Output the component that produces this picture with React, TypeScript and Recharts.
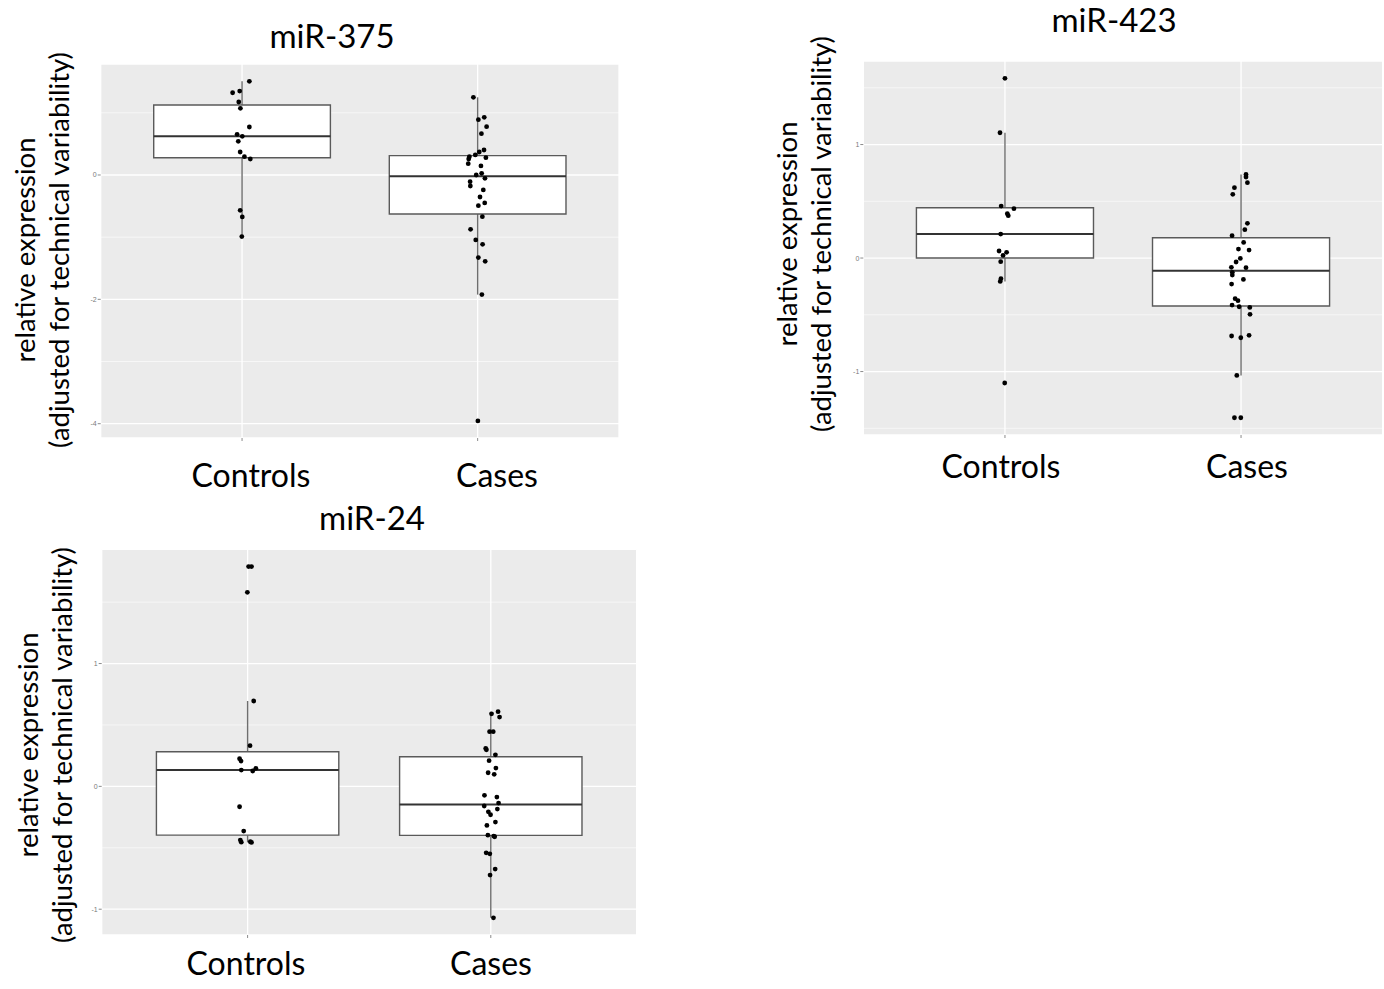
import React from 'react';
import { ComposedChart, Scatter, XAxis, YAxis, CartesianGrid, ReferenceArea, ReferenceLine } from 'recharts';

const FONT = 'Lato, "Open Sans", sans-serif';

const categories = ['Controls', 'Cases'];

// box stats per group: [lower whisker, Q1, median, Q3, upper whisker]
type BoxStats = [number, number, number, number, number];

// miR-375
const mir375Ticks = [-4, -2, 0];
const mir375Minor = [-3, -1, 1];
const mir375Boxes: BoxStats[] = [
    [-0.99, 0.278, 0.622, 1.125, 1.506],
    [-1.924, -0.627, -0.021, 0.311, 1.249],
];
const mir375Controls = [1.506, 1.323, 1.35, 1.174, 1.072, 0.772, 0.654, 0.622, 0.541, 0.37, 0.295, 0.257, -0.568, -0.675, -0.99];
const mir375ControlsJitter = [0.031, -0.04, -0.01, -0.014, -0.007, 0.031, -0.021, 0.001, -0.016, -0.008, 0.01, 0.035, -0.008, 0.001, -0.001];
const mir375Cases = [1.249, 0.889, 0.927, 0.777, 0.665, 0.402, 0.37, 0.322, 0.295, 0.257, 0.279, 0.182, 0.145, 0.027, 0, -0.054, -0.107, -0.177, -0.241, -0.354, -0.45, -0.493, -0.67, -0.874, -1.045, -1.115, -1.329, -1.388, -1.924, -3.955];
const mir375CasesJitter = [-0.018, 0.003, 0.028, 0.038, 0.016, 0.027, 0.007, -0.01, -0.035, -0.038, 0.035, -0.04, 0.014, 0.017, -0.006, 0.031, -0.032, -0.031, 0.024, 0.01, 0.03, 0.003, 0.02, -0.03, -0.008, 0.021, 0.003, 0.032, 0.018, 0.001];

// miR-423
const mir423Ticks = [-1, 0, 1];
const mir423Minor = [-1.5, -0.5, 0.5, 1.5];
const mir423Boxes: BoxStats[] = [
    [-0.206, 0, 0.211, 0.443, 1.104],
    [-1.034, -0.423, -0.112, 0.179, 0.737],
];
const mir423Controls = [1.583, 1.104, 0.458, 0.435, 0.391, 0.373, 0.211, 0.062, 0.05, 0.023, -0.032, -0.182, -0.206, -1.101];
const mir423ControlsJitter = [0, -0.021, -0.016, 0.038, 0.01, 0.014, -0.018, -0.025, 0.007, -0.008, -0.018, -0.017, -0.02, -0.001];
const mir423Cases = [0.737, 0.714, 0.664, 0.62, 0.561, 0.306, 0.25, 0.197, 0.138, 0.079, 0.07, -0.003, -0.035, -0.082, -0.085, -0.126, -0.15, -0.188, -0.229, -0.358, -0.376, -0.414, -0.429, -0.435, -0.496, -0.687, -0.702, -0.681, -1.034, -1.407, -1.407];
const mir423CasesJitter = [0.021, 0.021, 0.027, -0.028, -0.035, 0.027, 0.016, -0.038, 0.011, -0.011, 0.034, -0.003, -0.021, -0.041, 0.021, -0.037, -0.037, 0.01, -0.04, -0.025, -0.013, -0.038, -0.008, 0.037, 0.038, -0.04, -0.001, 0.034, -0.018, -0.028, -0.001];

// miR-24
const mir24Ticks = [-1, 0, 1];
const mir24Minor = [-0.5, 0.5, 1.5];
const mir24Boxes: BoxStats[] = [
    [-0.456, -0.397, 0.133, 0.282, 0.695],
    [-1.07, -0.399, -0.147, 0.241, 0.608],
];
const mir24Controls = [1.789, 1.789, 1.58, 0.695, 0.331, 0.225, 0.206, 0.133, 0.125, 0.147, -0.166, -0.364, -0.437, -0.454, -0.451, -0.456];
const mir24ControlsJitter = [0.004, 0.016, -0.001, 0.025, 0.01, -0.033, -0.027, -0.026, 0.021, 0.034, -0.033, -0.016, -0.03, -0.026, 0.011, 0.016];
const mir24Cases = [0.591, 0.608, 0.564, 0.445, 0.445, 0.309, 0.298, 0.257, 0.209, 0.149, 0.111, 0.098, -0.073, -0.087, -0.16, -0.136, -0.185, -0.207, -0.231, -0.291, -0.318, -0.397, -0.405, -0.41, -0.541, -0.549, -0.673, -0.722, -1.07];
const mir24CasesJitter = [0.003, 0.03, 0.036, -0.005, 0.01, -0.021, -0.018, 0.019, -0.007, 0.021, -0.011, 0.014, -0.026, 0.025, -0.027, 0.032, 0.027, -0.01, -0.001, 0.019, -0.016, -0.012, 0.012, 0.016, -0.019, -0.004, 0.018, -0.003, 0.011];

const yLabel1 = 'relative expression';
const yLabel2 = '(adjusted for technical variability)';

const toPoints = (groups: number[][], jitters: number[][]) =>
    groups.flatMap((vals, i) => vals.map((v, j) => ({ x: i + 1 + jitters[i][j], y: v })));

const Dot = (props: any) => <circle cx={props.cx} cy={props.cy} r={2.4} fill="#000" />;

interface PanelProps {
    left: number;
    top: number;
    width: number;
    height: number;
    margin: { top: number; right: number; bottom: number; left: number };
    domain: [number, number];
    ticks: number[];
    minor: number[];
    boxes: BoxStats[];
    points: { x: number; y: number }[];
}

function Panel({ left, top, width, height, margin, domain, ticks, minor, boxes, points }: PanelProps) {
    const half = 0.375;
    return (
        <div style={{ position: 'absolute', left, top }}>
            <ComposedChart width={width} height={height} margin={margin}>
                <CartesianGrid fill="#EBEBEB" stroke="#FFFFFF" strokeWidth={1.3} />
                <XAxis
                    type="number"
                    dataKey="x"
                    domain={[0.4, 2.6]}
                    ticks={[1, 2]}
                    allowDataOverflow
                    axisLine={false}
                    tickLine={{ stroke: '#8c8c8c' }}
                    tickSize={3}
                    tick={() => <g />}
                    height={10}
                />
                <YAxis
                    type="number"
                    dataKey="y"
                    domain={domain}
                    ticks={ticks}
                    allowDataOverflow
                    axisLine={false}
                    tickLine={{ stroke: '#8c8c8c' }}
                    tickSize={3}
                    tickMargin={1}
                    width={30}
                    tick={{ fontSize: 7, fill: '#7a7a7a', fontFamily: 'Arial, sans-serif' }}
                />
                {minor.map((v) => (
                    <ReferenceLine key={'m' + v} y={v} stroke="#FFFFFF" strokeWidth={0.6} zIndex={-50} />
                ))}
                {boxes.map((b, i) => (
                    <ReferenceLine
                        key={'wl' + i}
                        segment={[{ x: i + 1, y: b[0] }, { x: i + 1, y: b[1] }]}
                        stroke="#6e6e6e"
                        strokeWidth={1.4}
                        zIndex={50}
                    />
                ))}
                {boxes.map((b, i) => (
                    <ReferenceLine
                        key={'wu' + i}
                        segment={[{ x: i + 1, y: b[3] }, { x: i + 1, y: b[4] }]}
                        stroke="#6e6e6e"
                        strokeWidth={1.4}
                        zIndex={50}
                    />
                ))}
                {boxes.map((b, i) => (
                    <ReferenceArea
                        key={'b' + i}
                        x1={i + 1 - half}
                        x2={i + 1 + half}
                        y1={b[1]}
                        y2={b[3]}
                        fill="#FFFFFF"
                        fillOpacity={1}
                        stroke="#5a5a5a"
                        strokeWidth={1.4}
                        zIndex={100}
                    />
                ))}
                {boxes.map((b, i) => (
                    <ReferenceLine
                        key={'md' + i}
                        segment={[{ x: i + 1 - half, y: b[2] }, { x: i + 1 + half, y: b[2] }]}
                        stroke="#333333"
                        strokeWidth={2}
                        zIndex={150}
                    />
                ))}
                <Scatter data={points} isAnimationActive={false} shape={Dot} />
            </ComposedChart>
        </div>
    );
}

interface TextsProps {
    title: string;
    titleX: number;
    titleY: number;
    labelX1: number;
    labelX2: number;
    labelCy: number;
    catX: number[];
    catY: number;
}

function Texts({ title, titleX, titleY, labelX1, labelX2, labelCy, catX, catY }: TextsProps) {
    return (
        <g fontFamily={FONT} fill="#000">
            <text x={titleX} y={titleY} fontSize={33} textAnchor="middle">{title}</text>
            <text x={labelX1} y={labelCy} fontSize={27.5} textAnchor="middle" transform={`rotate(-90, ${labelX1}, ${labelCy})`}>
                {yLabel1}
            </text>
            <text x={labelX2} y={labelCy} fontSize={27.5} textAnchor="middle" transform={`rotate(-90, ${labelX2}, ${labelCy})`}>
                {yLabel2}
            </text>
            {categories.map((c, i) => (
                <text key={c} x={catX[i]} y={catY} fontSize={32} textAnchor="middle">{c}</text>
            ))}
        </g>
    );
}

export default function App() {
    return (
        <div style={{ position: 'absolute', left: 0, top: 0, width: 1384, height: 989, background: '#fff', overflow: 'hidden' }}>
            <Panel
                left={0}
                top={0}
                width={640}
                height={460}
                margin={{ top: 64, right: 21, bottom: 12, left: 70.7 }}
                domain={[-4.23, 1.785]}
                ticks={mir375Ticks}
                minor={mir375Minor}
                boxes={mir375Boxes}
                points={toPoints([mir375Controls, mir375Cases], [mir375ControlsJitter, mir375CasesJitter])}
            />
            <Panel
                left={770}
                top={0}
                width={614}
                height={460}
                margin={{ top: 61, right: 1.3, bottom: 15, left: 63.3 }}
                domain={[-1.559, 1.736]}
                ticks={mir423Ticks}
                minor={mir423Minor}
                boxes={mir423Boxes}
                points={toPoints([mir423Controls, mir423Cases], [mir423ControlsJitter, mir423CasesJitter])}
            />
            <Panel
                left={0}
                top={490}
                width={660}
                height={470}
                margin={{ top: 59.3, right: 23.3, bottom: 15, left: 71.7 }}
                domain={[-1.21, 1.93]}
                ticks={mir24Ticks}
                minor={mir24Minor}
                boxes={mir24Boxes}
                points={toPoints([mir24Controls, mir24Cases], [mir24ControlsJitter, mir24CasesJitter])}
            />
            <svg width={1384} height={989} style={{ position: 'absolute', left: 0, top: 0, pointerEvents: 'none' }}>
                <Texts title="miR-375" titleX={332} titleY={48} labelX1={35} labelX2={69} labelCy={250} catX={[251, 497]} catY={487} />
                <Texts title="miR-423" titleX={1114} titleY={32} labelX1={797} labelX2={831} labelCy={234} catX={[1001, 1247]} catY={478} />
                <Texts title="miR-24" titleX={372} titleY={530} labelX1={38} labelX2={72} labelCy={745} catX={[246, 491]} catY={975} />
            </svg>
        </div>
    );
}
